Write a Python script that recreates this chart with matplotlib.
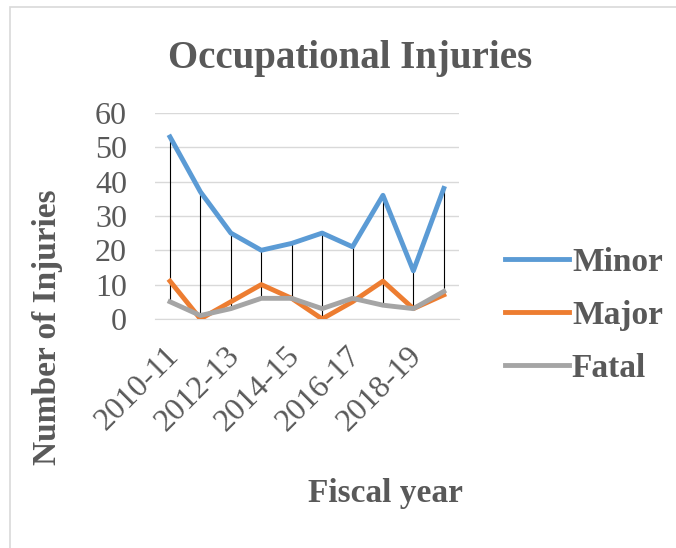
import numpy as np
import matplotlib.pyplot as plt
import matplotlib.transforms as mtransforms

years = ["2010-11", "2011-12", "2012-13", "2013-14", "2014-15",
         "2015-16", "2016-17", "2017-18", "2018-19", "2019-20"]
minor = [53, 37, 25, 20, 22, 25, 21, 36, 14, 38]
major = [11, 0, 5, 10, 6, 0, 5, 11, 3, 7]
fatal = [5, 1, 3, 6, 6, 3, 6, 4, 3, 8]

txt = "#595959"
plt.rcParams['font.family'] = ['Liberation Serif', 'DejaVu Serif']

fig = plt.figure(figsize=(6.76, 5.48), dpi=100)
# chart border (only left/top edges fall inside the image)
fig.patches.append(plt.Rectangle((10 / 676, -0.01), 1.0, 1 - 7 / 548 + 0.01,
                                 transform=fig.transFigure, fill=False,
                                 edgecolor="#d9d9d9", lw=1.2))
ax = fig.add_axes([0.229, 0.418, 0.45, 0.376])

x = np.arange(len(years))
hi = np.max([minor, major, fatal], axis=0)
lo = np.min([minor, major, fatal], axis=0)
ax.vlines(x, lo, hi, color="black", lw=0.8, zorder=3)

ax.plot(x, minor, color="#5B9BD5", lw=3.5, label="Minor", zorder=4)
ax.plot(x, major, color="#ED7D31", lw=3.5, label="Major", zorder=4)
ax.plot(x, fatal, color="#A5A5A5", lw=3.5, label="Fatal", zorder=4)

ax.set_xlim(-0.5, len(years) - 0.5)
ax.set_ylim(0, 60)
ax.set_yticks(range(0, 61, 10))
ax.yaxis.grid(True, color="#d9d9d9", lw=1)
ax.set_axisbelow(True)
for s in ["top", "right", "left"]:
    ax.spines[s].set_visible(False)
ax.spines["bottom"].set_color("#d9d9d9")
ax.tick_params(axis="both", length=0, labelsize=23, colors=txt)
ax.tick_params(axis="y", pad=20)
ax.tick_params(axis="x", pad=14)
ax.set_xticks(x[::2])
ax.set_xticklabels(years[::2], rotation=45, ha="right", rotation_mode="anchor")
shift = mtransforms.ScaledTranslation(-6 / 100, -3 / 100, fig.dpi_scale_trans)
for lab in ax.get_xticklabels():
    lab.set_transform(lab.get_transform() + shift)

fig.text(0.518, 0.893, "Occupational Injuries", ha="center", va="center",
         fontsize=28, fontweight="bold", color=txt)
fig.text(0.07, 0.403, "Number of Injuries", ha="center", va="center", rotation=90,
         fontsize=24, fontweight="bold", color=txt)
fig.text(0.57, 0.10, "Fiscal year", ha="center", va="center",
         fontsize=24, fontweight="bold", color=txt)

leg = fig.legend(loc="center left", bbox_to_anchor=(0.703, 0.425), frameon=False,
                 fontsize=24, handlelength=1.9, handletextpad=0.1, labelspacing=0.66)
for t in leg.get_texts():
    t.set_color(txt)
    t.set_fontweight("bold")

fig.savefig("out.png", dpi=100)
